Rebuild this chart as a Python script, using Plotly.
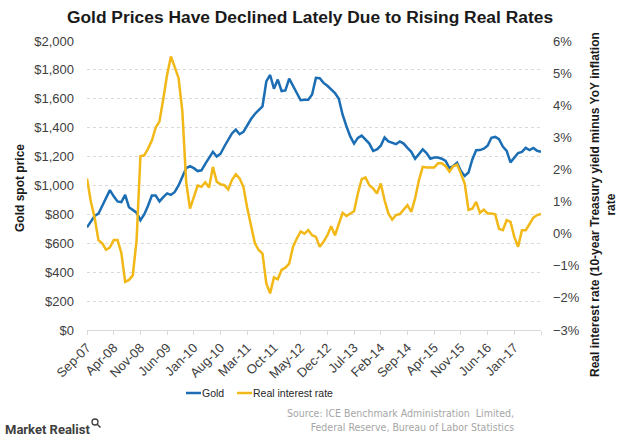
import pandas as pd
import plotly.graph_objects as go

months = list(pd.date_range("2007-09-01", periods=120, freq="MS").strftime("%b-%y"))

gold = [
    710, 749, 790, 805, 860, 920, 968, 925, 890, 885,
    935, 850, 830, 812, 760, 800, 860, 930, 930, 890,
    920, 945, 935, 955, 1000, 1060, 1120, 1134, 1120, 1100,
    1105, 1150, 1190, 1233, 1200, 1220, 1270, 1320, 1360, 1387,
    1355, 1371, 1420, 1460, 1495, 1521, 1548, 1720, 1765, 1670,
    1733, 1654, 1658, 1740, 1690, 1650, 1590, 1594, 1594, 1630,
    1745, 1742, 1710, 1690, 1665, 1640, 1600, 1490, 1410, 1340,
    1290, 1330, 1345, 1320, 1290, 1240, 1250, 1275, 1332, 1305,
    1295, 1286, 1305, 1290, 1260, 1233, 1185, 1215, 1250, 1225,
    1185, 1193, 1193, 1185, 1170, 1120, 1135, 1157, 1100, 1066,
    1090, 1180, 1244, 1245, 1255, 1275, 1330, 1336, 1320, 1270,
    1240, 1160, 1190, 1225, 1233, 1260, 1245, 1260, 1240, 1233,
]

real_rate = [
    1.72, 1.0, 0.5, -0.2, -0.3, -0.5, -0.43, -0.2, -0.2, -0.6,
    -1.5, -1.44, -1.3, -0.2, 2.41, 2.44, 2.65, 2.9, 3.3, 3.5,
    4.2, 4.95, 5.52, 5.2, 4.85, 3.8, 1.6, 0.78, 1.15, 1.5,
    1.46, 1.6, 1.44, 2.08, 1.62, 1.54, 1.51, 1.38, 1.67, 1.85,
    1.72, 1.46, 0.8, 0.3, -0.3, -0.51, -0.62, -1.55, -1.86, -1.36,
    -1.42, -1.13, -1.06, -0.93, -0.41, -0.15, 0.07, 0.0, 0.11, -0.05,
    -0.1, -0.41, -0.25, -0.05, 0.23, -0.05, 0.3, 0.65, 0.55, 0.63,
    0.7, 1.25, 1.7, 1.75, 1.51, 1.41, 1.25, 1.56, 1.04, 0.63,
    0.44, 0.58, 0.61, 0.75, 0.89, 0.68, 1.1, 1.67, 2.08, 2.06,
    2.06, 2.06, 2.19, 2.19, 2.1, 1.93, 2.1, 2.15, 1.87, 1.56,
    0.74, 0.78, 0.99, 0.65, 0.75, 0.63, 0.63, 0.6, 0.15, 0.11,
    0.42, 0.37, -0.1, -0.41, 0.11, 0.11, 0.3, 0.5, 0.58, 0.61,
]

tick_positions = months[::7]
tick_labels = [m if i < len(tick_positions) - 1 else "" for i, m in enumerate(tick_positions)]

series_names = ["Gold", "Real interest rate"]
title_text = "Gold Prices Have Declined Lately Due to Rising Real Rates"
left_title = "Gold spot price"
right_title = "Real interest rate (10-year Treasury yield minus YoY inflation<br>rate"
source_text = "Source: ICE Benchmark Administration  Limited,<br>Federal Reserve, Bureau of Labor Statistics"

BLUE = "#1b6db4"
YELLOW = "#f2b817"
FONT = "Liberation Sans, Arial, sans-serif"

W, H = 620, 443
L, R, T, B = 87, 79, 41, 113
PW, PH = W - L - R, H - T - B


def px_x(x):
    return (x - L) / PW


def px_y(y):
    return (H - B - y) / PH


fig = go.Figure()
fig.add_trace(go.Scatter(x=months, y=gold, name=series_names[0], mode="lines",
                         line=dict(color=BLUE, width=2.5)))
fig.add_trace(go.Scatter(x=months, y=real_rate, name=series_names[1], mode="lines",
                         line=dict(color=YELLOW, width=2.5), yaxis="y2"))

fig.update_layout(
    width=W, height=H,
    margin=dict(l=L, r=R, t=T, b=B),
    paper_bgcolor="white", plot_bgcolor="white",
    font=dict(family=FONT, size=13, color="#404040"),
    title=dict(text="<b>" + title_text + "</b>", x=0.5, xanchor="center",
               y=1 - 17 / H, yanchor="middle",
               font=dict(family=FONT, size=17.4, color="#1a1a1a")),
    xaxis=dict(type="category", range=[0, len(months) - 1],
               tickmode="array", tickvals=tick_positions, ticktext=tick_labels,
               tickangle=-45, showgrid=False, showline=True, linecolor="#d9d9d9",
               ticks="outside", ticklen=4, tickcolor="#d9d9d9",
               tickfont=dict(size=13, color="#404040"), zeroline=False),
    yaxis=dict(range=[0, 2000], dtick=200, tickprefix="$", tickformat=",",
               showgrid=True, gridcolor="#d9d9d9", griddash="3px,3px", gridwidth=1,
               zeroline=False, showline=False, ticks="", ticklabelstandoff=12,
               tickfont=dict(size=13, color="#404040")),
    yaxis2=dict(range=[-3, 6], dtick=1, ticksuffix="%", overlaying="y", side="right",
                showgrid=False, zeroline=False, showline=False, ticks="",
                ticklabelstandoff=11, tickfont=dict(size=13, color="#404040")),
    showlegend=False,
)

# legend (compact, as in the reference)
legend_items = [(series_names[0], BLUE, 186), (series_names[1], YELLOW, 237)]
for name, color, x0 in legend_items:
    fig.add_shape(type="line", xref="paper", yref="paper",
                  x0=px_x(x0), x1=px_x(x0 + 15), y0=px_y(393), y1=px_y(393),
                  line=dict(color=color, width=2.5))
    fig.add_annotation(text=name, xref="paper", yref="paper",
                       x=px_x(x0 + 15), y=px_y(393), showarrow=False,
                       xanchor="left", yanchor="middle", borderpad=0,
                       font=dict(family=FONT, size=10.5, color="#262626"))

fig.add_annotation(text="<b>" + left_title + "</b>", xref="paper", yref="paper",
                   x=px_x(20), y=px_y(188), textangle=-90, showarrow=False,
                   xanchor="center", yanchor="middle",
                   font=dict(family=FONT, size=12, color="#1a1a1a"))
fig.add_annotation(text="<b>" + right_title + "</b>", xref="paper", yref="paper",
                   x=px_x(603), y=px_y(205), textangle=-90, showarrow=False,
                   xanchor="center", yanchor="middle",
                   font=dict(family=FONT, size=12, color="#1a1a1a"))
fig.add_annotation(text=source_text, xref="paper", yref="paper",
                   x=px_x(516), y=px_y(420), showarrow=False, align="right",
                   xanchor="right", yanchor="middle",
                   font=dict(family="DejaVu Sans Condensed, sans-serif", size=10.5, color="#a6a6a6"))
fig.add_annotation(text="<b>Market Realist</b>", xref="paper", yref="paper",
                   x=px_x(3), y=px_y(429), showarrow=False, xanchor="left", yanchor="middle",
                   font=dict(family="Roboto, sans-serif", size=13, color="#404040"))
fig.add_shape(type="circle", xref="paper", yref="paper",
              x0=px_x(92), x1=px_x(98), y0=px_y(425), y1=px_y(419),
              line=dict(color="#404040", width=1.3))
fig.add_shape(type="line", xref="paper", yref="paper",
              x0=px_x(97.5), x1=px_x(100.5), y0=px_y(424.5), y1=px_y(427.5),
              line=dict(color="#404040", width=1.5))

fig.write_html("out.html")
